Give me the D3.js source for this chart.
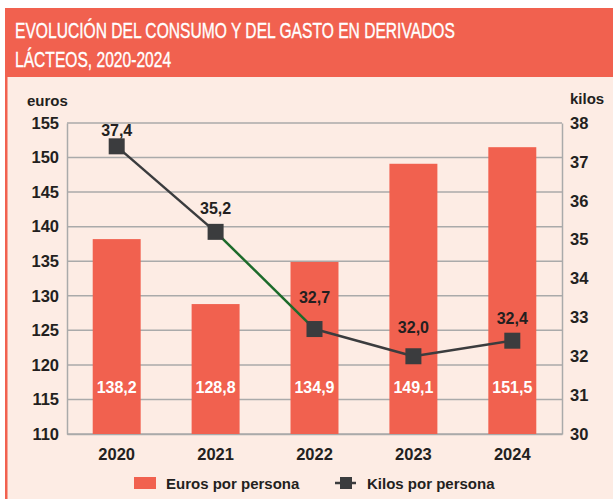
<!DOCTYPE html>
<html>
<head>
<meta charset="utf-8">
<script src="https://cdn.jsdelivr.net/npm/d3@7"></script>
<style>
  html, body { margin: 0; padding: 0; background: #ffffff; }
  svg { display: block; }
  text { font-family: "Liberation Sans", Arial, sans-serif; }
</style>
</head>
<body>
<svg id="chart"></svg>
<script>
// data
const years = ['2020', '2021', '2022', '2023', '2024'];
const euros = [138.2, 128.8, 134.9, 149.1, 151.5];
const kilos = [37.4, 35.2, 32.7, 32.0, 32.4];
const eurosTicks = [110, 115, 120, 125, 130, 135, 140, 145, 150, 155];
const kilosTicks = [30, 31, 32, 33, 34, 35, 36, 37, 38];
const titleLines = ['EVOLUCIÓN DEL CONSUMO Y DEL GASTO EN DERIVADOS', 'LÁCTEOS, 2020-2024'];

const fmt = v => d3.format('.1f')(v).replace('.', ',');

const W = 613, H = 499;
const red = '#f1614f';
const bg = '#fdece4';
const ink = '#231f20';
const grid = '#aaaaaa';
const lineCol = '#3b3c3e';
const green = '#1d6b2b';

const svg = d3.select('#chart').attr('width', W).attr('height', H);

// panel background
svg.append('rect').attr('x', 6).attr('y', 8).attr('width', W - 6).attr('height', H - 8).attr('fill', bg);
svg.append('rect').attr('x', 5).attr('y', 8).attr('width', 2.5).attr('height', H - 8).attr('fill', red);

// title band (condensed look via horizontal scale)
svg.append('rect').attr('x', 5).attr('y', 8).attr('width', W - 5).attr('height', 69).attr('fill', red);
const titleOuter = svg.append('g').attr('transform', 'translate(15,0)');
const title = titleOuter.append('g');
titleLines.forEach((t, i) => {
    title.append('text')
        .attr('x', 0)
        .attr('y', 38 + i * 29)
        .attr('fill', '#ffffff')
        .attr('stroke', '#ffffff')
        .attr('stroke-width', 0.4)
        .style('font-size', '22.5px')
        .text(t);
});
const w0 = title.select('text').node().getComputedTextLength();
title.attr('transform', `scale(${440 / w0},1)`);

// scales
const plot = {left: 67, right: 562, top: 123, bottom: 434};

const x = d3.scaleBand()
    .domain(years)
    .range([plot.left, plot.right])
    .paddingInner(0.515)
    .paddingOuter(0.26);

const yL = d3.scaleLinear().domain([110, 155]).range([plot.bottom, plot.top]);
const yR = d3.scaleLinear().domain([30, 38]).range([plot.bottom, plot.top]);

// gridlines
svg.append('g')
    .selectAll('line')
    .data(eurosTicks)
    .join('line')
    .attr('x1', plot.left).attr('x2', plot.right)
    .attr('y1', d => yL(d)).attr('y2', d => yL(d))
    .attr('stroke', grid)
    .attr('stroke-width', 1.5);

// left axis
const leftAxis = svg.append('g')
    .attr('transform', `translate(${plot.left},0)`)
    .call(d3.axisLeft(yL).tickValues(eurosTicks).tickSize(0).tickPadding(8));
leftAxis.select('.domain').attr('stroke', grid).attr('stroke-width', 1.5);
leftAxis.selectAll('text')
    .attr('fill', ink)
    .style('font-size', '16.5px')
    .style('font-weight', 'bold');

// right axis
const rightAxis = svg.append('g')
    .attr('transform', `translate(${plot.right},0)`)
    .call(d3.axisRight(yR).tickValues(kilosTicks).tickSize(0).tickPadding(8));
rightAxis.select('.domain').attr('stroke', grid).attr('stroke-width', 1.5);
rightAxis.selectAll('text')
    .attr('fill', ink)
    .style('font-size', '16.5px')
    .style('font-weight', 'bold');

// bottom axis
const bottomAxis = svg.append('g')
    .attr('transform', `translate(0,${plot.bottom})`)
    .call(d3.axisBottom(x).tickSize(0).tickPadding(14));
bottomAxis.select('.domain').attr('stroke', grid).attr('stroke-width', 1.5);
bottomAxis.selectAll('text')
    .attr('fill', ink)
    .style('font-size', '16.5px')
    .style('font-weight', 'bold');

// axis titles
svg.append('text')
    .attr('x', 27).attr('y', 106)
    .attr('fill', ink)
    .style('font-size', '15px').style('font-weight', 'bold')
    .text('euros');
svg.append('text')
    .attr('x', 570).attr('y', 104)
    .attr('fill', ink)
    .style('font-size', '15px').style('font-weight', 'bold')
    .text('kilos');

// bars
svg.append('g')
    .selectAll('rect')
    .data(years)
    .join('rect')
    .attr('x', d => x(d))
    .attr('width', x.bandwidth())
    .attr('y', (d, i) => yL(euros[i]))
    .attr('height', (d, i) => plot.bottom - yL(euros[i]))
    .attr('fill', red);

svg.append('g')
    .selectAll('text')
    .data(years)
    .join('text')
    .attr('x', d => x(d) + x.bandwidth() / 2)
    .attr('y', 393)
    .attr('text-anchor', 'middle')
    .attr('fill', '#ffffff')
    .style('font-size', '16px').style('font-weight', 'bold')
    .text((d, i) => fmt(euros[i]));

// line
const cx = d => x(d) + x.bandwidth() / 2;
const pts = years.map((d, i) => [cx(d), yR(kilos[i])]);

svg.append('g')
    .selectAll('line')
    .data(d3.pairs(pts))
    .join('line')
    .attr('x1', d => d[0][0]).attr('y1', d => d[0][1])
    .attr('x2', d => d[1][0]).attr('y2', d => d[1][1])
    .attr('stroke', (d, i) => i === 1 ? green : lineCol)
    .attr('stroke-width', 2.5);

const sq = 16;
svg.append('g')
    .selectAll('rect')
    .data(pts)
    .join('rect')
    .attr('x', d => d[0] - sq / 2)
    .attr('y', d => d[1] - sq / 2)
    .attr('width', sq).attr('height', sq)
    .attr('fill', lineCol);

// label lift above each marker (layout only)
const lift = [10, 18, 26, 23, 17];
svg.append('g')
    .selectAll('text')
    .data(pts)
    .join('text')
    .attr('x', d => d[0])
    .attr('y', (d, i) => d[1] - lift[i])
    .attr('text-anchor', 'middle')
    .attr('fill', ink)
    .style('font-size', '16px').style('font-weight', 'bold')
    .text((d, i) => fmt(kilos[i]));

// legend
const legend = svg.append('g');
legend.append('rect')
    .attr('x', 134).attr('y', 477).attr('width', 22).attr('height', 12)
    .attr('fill', red);
legend.append('text')
    .attr('x', 166).attr('y', 489)
    .attr('fill', ink)
    .style('font-size', '15px').style('font-weight', 'bold')
    .text('Euros por persona');
legend.append('line')
    .attr('x1', 335).attr('x2', 356).attr('y1', 483).attr('y2', 483)
    .attr('stroke', lineCol).attr('stroke-width', 2.5);
legend.append('rect')
    .attr('x', 340).attr('y', 477).attr('width', 12).attr('height', 12)
    .attr('fill', lineCol);
legend.append('text')
    .attr('x', 367).attr('y', 489)
    .attr('fill', ink)
    .style('font-size', '15px').style('font-weight', 'bold')
    .text('Kilos por persona');
</script>
</body>
</html>
